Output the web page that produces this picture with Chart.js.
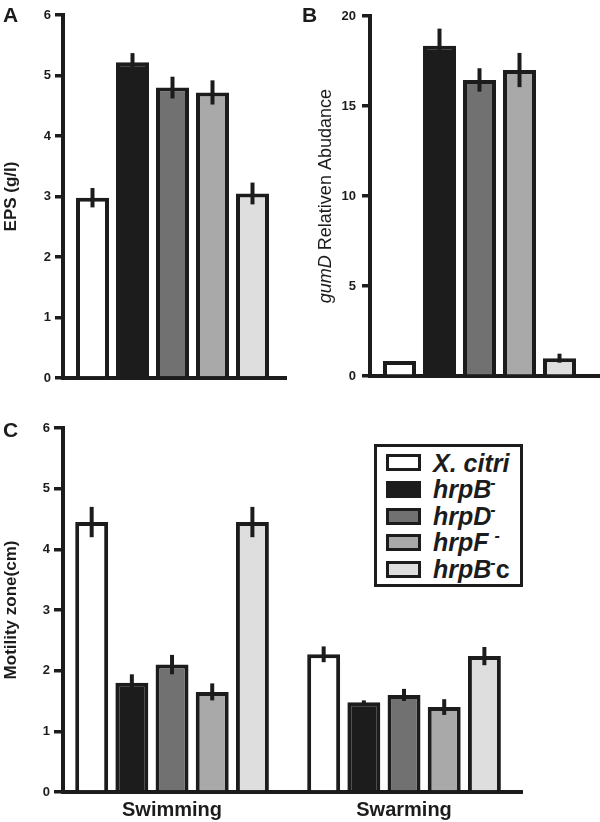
<!DOCTYPE html>
<html>
<head>
<meta charset="utf-8">
<script src="https://cdn.jsdelivr.net/npm/chart.js@4.4.0/dist/chart.umd.min.js"></script>
<style>
  body { margin: 0; background: #fff; font-family: "Liberation Sans", Arial, Helvetica, sans-serif; }
  #wrap { position: relative; width: 600px; height: 822px; }
  canvas { position: absolute; }
  #cA { left: 0; top: 0; }
  #cB { left: 300px; top: 0; }
  #cC { left: 0; top: 390px; }
  .panel { position: absolute; font-size: 21px; font-weight: bold; line-height: 21px; color: #1c1c1c; }
  #legend {
    position: absolute; left: 374px; top: 444px; width: 149px; height: 143px;
    box-sizing: border-box; border: 3px solid #1c1c1c; background: #fff;
    padding: 2.7px 0 0 9px;
  }
  .row { height: 26.6px; display: flex; align-items: center; }
  .sw { width: 35px; height: 17px; box-sizing: border-box; border: 3px solid #1c1c1c; margin-right: 12px; flex: none; }
  .lt { font: italic bold 25px/26.6px "Liberation Sans", Arial, sans-serif; color: #1c1c1c; white-space: nowrap; }
  .lt sup { font-size: 16px; line-height: 0; vertical-align: 10px; margin-left: -1px; }
  .lt .up { font-style: normal; }
</style>
</head>
<body>
<div id="wrap">
  <canvas id="cA" width="300" height="390"></canvas>
  <canvas id="cB" width="300" height="390"></canvas>
  <canvas id="cC" width="600" height="432"></canvas>
  <div class="panel" style="left:3px; top:4px;">A</div>
  <div class="panel" style="left:302px; top:4px;">B</div>
  <div class="panel" style="left:3px; top:419px;">C</div>
  <div id="legend"></div>
</div>
<script>
// data
const strains = ['X. citri', 'hrpB-', 'hrpD-', 'hrpF-', 'hrpB-c'];
const epsValues = [2.98, 5.22, 4.8, 4.72, 3.05];
const epsErrors = [0.16, 0.15, 0.18, 0.2, 0.18];
const gumdValues = [0.85, 18.35, 16.45, 17.0, 1.0];
const gumdErrors = [0, 0.95, 0.65, 0.95, 0.25];
const assays = ['Swimming', 'Swarming'];
const swimmingValues = [4.45, 1.8, 2.1, 1.65, 4.45];
const swimmingErrors = [0.25, 0.14, 0.16, 0.14, 0.25];
const swarmingValues = [2.27, 1.48, 1.6, 1.4, 2.24];
const swarmingErrors = [0.13, 0.03, 0.1, 0.13, 0.15];

const legendLabels = ['X. citri', 'hrpB<sup>-</sup>', 'hrpD<sup>-</sup>', 'hrpF&nbsp;<sup>-</sup>', 'hrpB<sup>-</sup><span class="up">c</span>'];
const fills = ['#ffffff', '#1c1c1c', '#717171', '#a9a9a9', '#dedede'];
const ink = '#1c1c1c';
const family = '"Liberation Sans", Arial, Helvetica, sans-serif';

// error bars drawn from the y scale
const errorBars = {
  id: 'errorBars',
  afterDatasetsDraw(chart) {
    const ctx = chart.ctx;
    const y = chart.scales.y;
    ctx.save();
    ctx.strokeStyle = ink;
    ctx.lineWidth = 4;
    chart.data.datasets.forEach((ds, i) => {
      chart.getDatasetMeta(i).data.forEach((bar, j) => {
        const v = ds.data[j].y, e = ds.errors[j];
        if (!e) return;
        ctx.beginPath();
        ctx.moveTo(bar.x, y.getPixelForValue(v + e));
        ctx.lineTo(bar.x, y.getPixelForValue(v - e));
        ctx.stroke();
      });
    });
    ctx.restore();
  }
};

// mixed italic / regular axis title for panel B
const gumdTitle = {
  id: 'gumdTitle',
  afterDraw(chart) {
    const ctx = chart.ctx, area = chart.chartArea;
    const italic = 'italic 18px ' + family;
    const plain = '18px ' + family;
    ctx.save();
    ctx.font = italic;
    const w1 = ctx.measureText('gumD ').width;
    ctx.font = plain;
    const w2 = ctx.measureText('Relativen Abudance').width;
    ctx.translate(31, (area.top + area.bottom) / 2);
    ctx.rotate(-Math.PI / 2);
    ctx.fillStyle = ink;
    ctx.textAlign = 'left';
    ctx.textBaseline = 'alphabetic';
    const x0 = -(w1 + w2) / 2;
    ctx.font = italic;
    ctx.fillText('gumD', x0, 0);
    ctx.font = plain;
    ctx.fillText('Relativen Abudance', x0 + w1, 0);
    ctx.restore();
  }
};

function yAxis(max, step, width, tickLen, pad, title) {
  return {
    min: 0,
    max: max,
    afterFit: s => { s.width = width; },
    ticks: { stepSize: step, padding: pad, color: ink, font: { family: family, size: 13, weight: 'bold' } },
    grid: { drawOnChartArea: false, tickLength: tickLen, lineWidth: 3.5, color: ink },
    border: { display: true, width: 4, color: ink },
    title: title
      ? { display: true, text: title, color: ink, font: { family: family, size: 17, weight: 'bold' }, padding: { top: 1, bottom: 0 } }
      : { display: false }
  };
}

function xAxis(min, max, tickValues, height, labels) {
  return {
    type: 'linear',
    min: min,
    max: max,
    offset: false,
    afterBuildTicks: s => { s.ticks = tickValues.map(v => ({ value: v })); },
    afterFit: s => { s.height = height; },
    grid: { display: false, drawTicks: false },
    border: { display: true, width: 4, color: ink },
    ticks: labels
      ? { padding: 6, color: ink, font: { family: family, size: 20, weight: 'bold' }, callback: v => labels[v], maxRotation: 0 }
      : { display: false }
  };
}

const baseOptions = {
  responsive: false,
  animation: false,
  events: [],
  plugins: { legend: { display: false }, tooltip: { enabled: false } }
};

const idx = strains.map((s, i) => i);

new Chart(document.getElementById('cA'), {
  type: 'bar',
  data: {
    datasets: [{
      data: epsValues.map((v, i) => ({ x: i, y: v })),
      errors: epsErrors,
      backgroundColor: fills,
      borderColor: ink,
      borderWidth: 4,
      barPercentage: 0.825,
      categoryPercentage: 1
    }]
  },
  options: {
    ...baseOptions,
    layout: { padding: { left: 0, right: 14, top: 15, bottom: 0 } },
    scales: {
      x: xAxis(-0.7375, 4.8375, idx, 12),
      y: yAxis(6, 1, 63, 8, 4, 'EPS (g/l)')
    }
  },
  plugins: [errorBars]
});

new Chart(document.getElementById('cB'), {
  type: 'bar',
  data: {
    datasets: [{
      data: gumdValues.map((v, i) => ({ x: i, y: v })),
      errors: gumdErrors,
      backgroundColor: fills,
      borderColor: ink,
      borderWidth: 4,
      barPercentage: 0.825,
      categoryPercentage: 1
    }]
  },
  options: {
    ...baseOptions,
    layout: { padding: { left: 0, right: 0, top: 16, bottom: 0 } },
    scales: {
      x: xAxis(-0.7375, 5.0125, idx, 12),
      y: yAxis(20, 5, 70, 8, 6, null)
    }
  },
  plugins: [errorBars, gumdTitle]
});

new Chart(document.getElementById('cC'), {
  type: 'bar',
  data: {
    datasets: strains.map((s, i) => ({
      label: s,
      data: [{ x: 0, y: swimmingValues[i] }, { x: 1, y: swarmingValues[i] }],
      errors: [swimmingErrors[i], swarmingErrors[i]],
      backgroundColor: fills[i],
      borderColor: ink,
      borderWidth: 4,
      barPercentage: 0.82,
      categoryPercentage: 0.866
    }))
  },
  options: {
    ...baseOptions,
    layout: { padding: { left: 0, right: 78, top: 38, bottom: 0 } },
    scales: {
      x: xAxis(-0.47, 1.5085, [0, 1], 30, assays),
      y: yAxis(6, 1, 63, 9, 4, 'Motility zone(cm)')
    }
  },
  plugins: [errorBars]
});

const legendEl = document.getElementById('legend');
legendLabels.forEach((html, i) => {
  const row = document.createElement('div');
  row.className = 'row';
  row.innerHTML = '<span class="sw" style="background:' + fills[i] + '"></span><span class="lt">' + html + '</span>';
  legendEl.appendChild(row);
});
</script>
</body>
</html>
